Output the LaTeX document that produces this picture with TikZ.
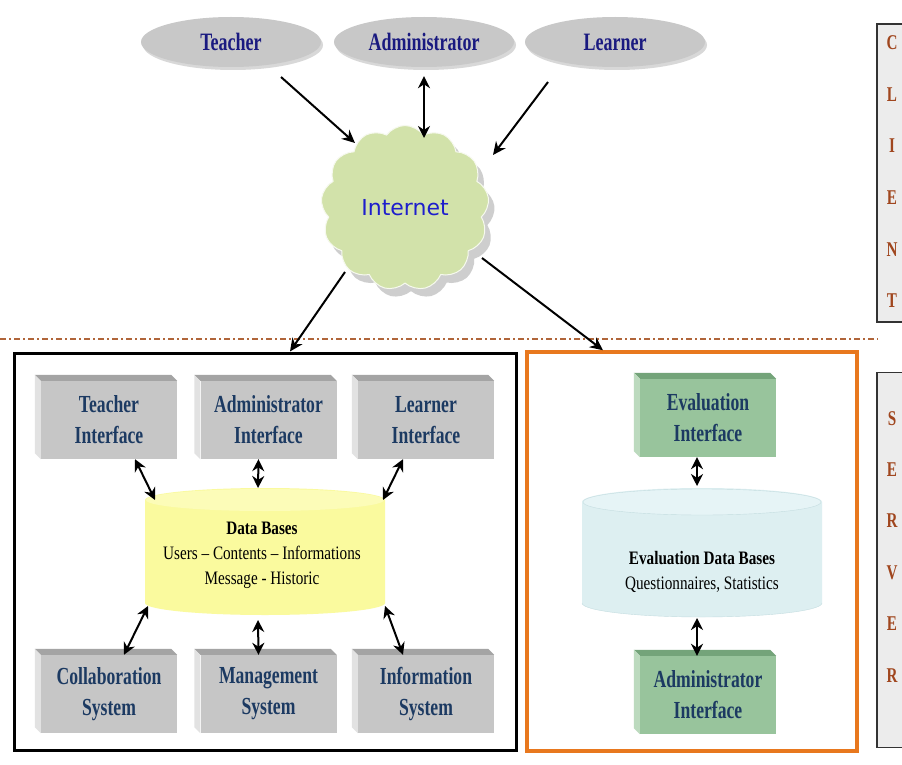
\documentclass[tikz,border=0pt]{standalone}
\usepackage{fontspec}
\setmainfont[FakeStretch=0.72]{Liberation Serif}
\newfontfamily\dbfont[FakeStretch=0.8]{Liberation Serif}
\newfontfamily\inetfont{DejaVu Sans}
\usetikzlibrary{shapes.geometric,shapes.symbols,shadows,arrows.meta,calc}
\definecolor{ellgray}{HTML}{C8C8C8}
\definecolor{navy}{HTML}{1A1A80}
\definecolor{cloudgreen}{HTML}{D2E2AA}
\definecolor{inetblue}{HTML}{1E1ECC}
\definecolor{sepbrown}{HTML}{B0653A}
\definecolor{panelfill}{HTML}{ECECEC}
\definecolor{letterbrown}{HTML}{A0461E}
\definecolor{boxgray}{HTML}{C6C6C6}
\definecolor{boxgraytop}{HTML}{A4A4A4}
\definecolor{boxgrayleft}{HTML}{E2E2E2}
\definecolor{boxgreen}{HTML}{98C49C}
\definecolor{boxgreentop}{HTML}{74A47A}
\definecolor{boxgreenleft}{HTML}{BCDABE}
\definecolor{boxtext}{HTML}{1C3A62}
\definecolor{orangeb}{HTML}{E8781E}
\definecolor{dbyellow}{HTML}{FAFA9E}
\definecolor{dbyellowtop}{HTML}{FCFCB8}
\definecolor{dbblue}{HTML}{DDEFF1}
\definecolor{dbbluetop}{HTML}{E6F4F6}
\definecolor{dbblueline}{HTML}{C4DDE0}
\newcommand\boxfaces[3]{%
  \fill[#2] (#1.north west) -- ++(-6,-6) -- ($(#1.north east)+(-6,-6)$) -- (#1.north east) -- cycle;
  \fill[#3] (#1.north west) -- ++(-6,-6) -- ($(#1.south west)+(-6,-6)$) -- (#1.south west) -- cycle;}
\tikzset{
  actor/.style={ellipse, minimum width=180pt, minimum height=50pt, inner sep=0pt, fill=ellgray,
    drop shadow={shadow xshift=2pt, shadow yshift=-3pt, fill=black!30}, text=navy,
    font=\bfseries\fontsize{25}{27}\selectfont},
  arr/.style={line width=2pt, -{Stealth[length=13pt,width=12pt]}},
  dbl/.style={line width=2pt, {Stealth[length=12pt,width=12pt]}-{Stealth[length=12pt,width=12pt]}},
  frontface/.style={rectangle, minimum width=136pt, minimum height=78pt, inner sep=0pt, align=center,
    text=boxtext, font=\bfseries\fontsize{24.5}{31}\selectfont},
  grayface/.style={frontface, fill=boxgray},
  greenface/.style={frontface, fill=boxgreen},
  panel/.style={rectangle, draw=black!80, line width=1.3pt, fill=panelfill, minimum width=40pt, inner sep=0pt},
  letter/.style={text=letterbrown, font=\bfseries\fontsize{21}{22}\selectfont, inner sep=0pt},
  dbtext/.style={rectangle, minimum width=240pt, minimum height=127pt, inner sep=0pt, align=center,
    font=\dbfont\fontsize{19}{25}\selectfont},
}
\begin{document}
\begin{tikzpicture}[x=1pt,y=-1pt]
\useasboundingbox[fill=white] (0,0) rectangle (902,765);

% client / server panels
\node[panel, minimum height=298pt] (client) at (897,173) {};
\node[panel, minimum height=375pt] (server) at (897,560) {};
\foreach \l/\y [count=\i] in {C/43,L/95,I/146,E/198,N/250,T/301}
  \node[letter] (cl\i) at (892,\y) {\l};
\foreach \l/\y [count=\i] in {S/419,E/470,R/521,V/573,E/624,R/676}
  \node[letter] (sv\i) at (892,\y) {\l};

% separator
\draw[sepbrown, line width=1.2pt, dash pattern=on 6pt off 3pt on 2pt off 3pt] (0,339) -- (878,339);

% actors
\node[actor] (teacher) at (231,42) {Teacher};
\node[actor] (admin) at (424,42) {Administrator};
\node[actor] (learner) at (615,42) {Learner};

% cloud
\node[cloud, cloud puffs=13, cloud puff arc=110, aspect=1.05, minimum width=168pt, minimum height=165pt,
  fill=cloudgreen, draw=white!80!cloudgreen, line width=1pt,
  drop shadow={shadow xshift=6pt, shadow yshift=-8pt, fill=gray!75}] (inet) at (405,208)
  {\inetfont\fontsize{22}{24}\selectfont\color{inetblue}Internet};

% server boxes
\node[draw=black, line width=3pt, minimum width=502pt, minimum height=397pt, inner sep=0pt] (lbox) at (265,551.5) {};
\node[draw=orangeb, line width=3.5pt, minimum width=330pt, minimum height=399pt, inner sep=0pt] (rbox) at (692,551.5) {};

% top-level arrows
\draw[arr] ([shift={(50,35)}]teacher.center) -- ([shift={(-50,-65)}]inet.center);
\draw[dbl] ([yshift=-9pt]admin.south) -- ([shift={(19,-70)}]inet.center);
\draw[arr] ([shift={(-67,40)}]learner.center) -- ([shift={(88,-53)}]inet.center);
\draw[arr] ([shift={(-60,64)}]inet.center) -- ([xshift=25pt]lbox.north);
\draw[arr] ([shift={(77,50)}]inet.center) -- ([xshift=-89pt]rbox.north);

% gray interface boxes
\node[grayface] (ti) at (109,420) {Teacher\\Interface};
\node[grayface] (ai) at (268.5,420) {Administrator\\Interface};
\node[grayface] (li) at (426,420) {Learner\\Interface};
\node[grayface] (cs) at (109,694) {Collaboration\\System};
\node[grayface] (ms) at (268.5,694) {Management\\System};
\node[grayface] (is) at (426,694) {Information\\System};
\foreach \n in {ti,ai,li,cs,ms,is} {\boxfaces{\n}{boxgraytop}{boxgrayleft}}

% green boxes
\node[greenface] (ei) at (708,418) {Evaluation\\Interface};
\node[greenface] (ea) at (708,695) {Administrator\\Interface};
\foreach \n in {ei,ea} {\boxfaces{\n}{boxgreentop}{boxgreenleft}}

% yellow cylinder
\fill[dbyellow] (145,500) -- (145,603) arc[start angle=180, end angle=0, x radius=120, y radius=12]
  -- (385,500) arc[start angle=0, end angle=-180, x radius=120, y radius=12] -- cycle;
\fill[dbyellowtop] (265,500) ellipse[x radius=119, y radius=11];
\node[dbtext] (db) at (262,555) {{\bfseries Data Bases}\\Users – Contents – Informations\\Message - Historic};

% blue cylinder
\fill[dbblue] (582,502) -- (582,603) arc[start angle=180, end angle=0, x radius=120, y radius=14]
  -- (822,502) arc[start angle=0, end angle=-180, x radius=120, y radius=14] -- cycle;
\draw[dbblueline, fill=dbbluetop] (702,502) ellipse[x radius=119, y radius=13];
\draw[dbblueline] (582,603) arc[start angle=180, end angle=0, x radius=120, y radius=14];
\node[dbtext] (edb) at (702,572) {{\bfseries Evaluation Data Bases}\\Questionnaires, Statistics};

% inner arrows
\draw[dbl] ([xshift=26pt]ti.south) -- ([shift={(-107,-55)}]db.center);
\draw[dbl] ([xshift=-10pt]ai.south) -- ([shift={(-4,-67)}]db.center);
\draw[dbl] ([xshift=-23pt]li.south) -- ([shift={(121,-55)}]db.center);
\draw[dbl] ([shift={(-114,51)}]db.center) -- ([xshift=15pt]cs.north);
\draw[dbl] ([shift={(-4,65)}]db.center) -- ([xshift=-10pt]ms.north);
\draw[dbl] ([shift={(123,51)}]db.center) -- ([xshift=-23pt]is.north);
\draw[dbl] ([xshift=-11pt]ei.south) -- ([shift={(-5,-86)}]edb.center);
\draw[dbl] ([shift={(-5,46)}]edb.center) -- ([xshift=-11pt]ea.north);
\end{tikzpicture}
\end{document}
